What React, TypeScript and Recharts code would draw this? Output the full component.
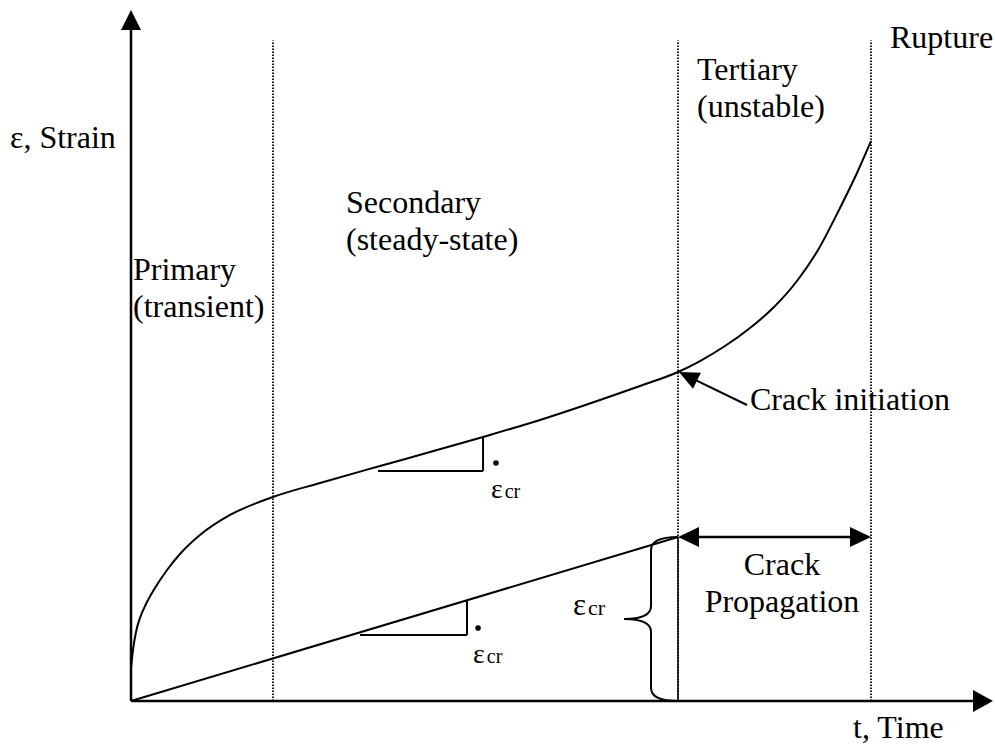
import {
  LineChart,
  Line,
  XAxis,
  YAxis,
  ReferenceLine,
  ReferenceDot,
} from "recharts";

// creep curve (t and strain in arbitrary 0-100 units)
const curveTime = [
  0, 0.23, 0.58, 1.04, 1.74, 2.78, 4.18, 5.68, 8.0, 11.49, 16.47, 21.93,
  28.89, 34.69, 40.84, 47.45, 54.41, 59.05, 63.46, 66.01, 68.91, 71.81, 74.71,
  77.26, 79.7, 82.25, 84.22, 85.85,
];
const curveStrain = [
  4.78, 7.38, 9.99, 12.01, 14.04, 16.35, 18.96, 21.27, 24.02, 26.92, 29.52,
  31.55, 34.01, 36.03, 38.21, 40.67, 43.56, 45.59, 47.61, 49.2, 51.37, 53.98,
  57.16, 60.78, 65.27, 71.35, 76.41, 81.04,
];

// linear secondary-rate line up to crack initiation
const rateTime = [0, 63.46];
const rateStrain = [0, 23.73];

// stage boundaries
const stageBounds = [16.47, 63.46, 85.85];
const stageTop = 95.6;
const tInit = 63.46;
const tRupture = 85.85;

const FONT = "Liberation Serif";

const curveRows = curveTime.map((t, i) => ({ t, strain: curveStrain[i] }));
const rateRows = rateTime.map((t, i) => ({ t, strain: rateStrain[i] }));

// line with filled arrow heads at the end (and optionally start)
const arrowLine =
  (len: number, half: number, both = false, width = 2.5) =>
  (p: any) => {
    const { x1, y1, x2, y2 } = p;
    const dx = x2 - x1;
    const dy = y2 - y1;
    const d = Math.hypot(dx, dy) || 1;
    const ux = dx / d;
    const uy = dy / d;
    const head = (tx: number, ty: number, sx: number, sy: number) => {
      const bx = tx - sx * len;
      const by = ty - sy * len;
      return `${tx},${ty} ${bx - sy * half},${by + sx * half} ${bx + sy * half},${by - sx * half}`;
    };
    return (
      <g>
        <line
          x1={both ? x1 + ux * (len - 2) : x1}
          y1={both ? y1 + uy * (len - 2) : y1}
          x2={x2 - ux * (len - 2)}
          y2={y2 - uy * (len - 2)}
          stroke="#000"
          strokeWidth={width}
        />
        <polygon points={head(x2, y2, ux, uy)} fill="#000" />
        {both && <polygon points={head(x1, y1, -ux, -uy)} fill="#000" />}
      </g>
    );
  };

// curly brace on the left of a vertical segment
const braceShape = (p: any) => {
  const { x1, y1, x2, y2 } = p;
  const top = Math.min(y1, y2);
  const bot = Math.max(y1, y2);
  const x0 = x1;
  const mid = (top + bot) / 2;
  const xs = x0 - 27;
  const tip = x0 - 54;
  const d = `M ${x0} ${top} Q ${xs} ${top} ${xs} ${top + 13} L ${xs} ${mid - 13} Q ${xs} ${mid} ${tip} ${mid} Q ${xs} ${mid} ${xs} ${mid + 13} L ${xs} ${bot - 13} Q ${xs} ${bot} ${x0} ${bot}`;
  return (
    <g>
      <line x1={x1} y1={y1} x2={x2} y2={y2} stroke="#000" strokeWidth={1.5} />
      <path d={d} fill="none" stroke="#000" strokeWidth={2} />
    </g>
  );
};

const note =
  (lines: string[], anchor: "start" | "middle" = "start", size = 32) =>
  (p: any) => (
    <text
      x={p.cx}
      y={p.cy}
      style={{ fontFamily: FONT, fontSize: size }}
      textAnchor={anchor}
      fill="#000"
    >
      {lines.map((s, i) => (
        <tspan key={i} x={p.cx} dy={i === 0 ? 0 : 37}>
          {s}
        </tspan>
      ))}
    </text>
  );

const epsCr =
  (big = 28, small = 20) =>
  (p: any) => (
    <text x={p.cx} y={p.cy} style={{ fontFamily: FONT }} fill="#000">
      <tspan style={{ fontSize: big }}>ε</tspan>
      <tspan style={{ fontSize: small }} dx={2}>
        cr
      </tspan>
    </text>
  );

const seg = (a: [number, number], b: [number, number]) => [
  { x: a[0], y: a[1] },
  { x: b[0], y: b[1] },
];

export default function App() {
  return (
    <div style={{ position: "absolute", left: 0, top: 0, background: "#fff" }}>
      <LineChart
        width={995}
        height={748}
        data={curveRows}
        margin={{ top: 10, right: 2, bottom: 47, left: 131 }}
      >
        <XAxis type="number" dataKey="t" domain={[0, 100]} hide />
        <YAxis type="number" domain={[0, 100]} hide />

        {stageBounds.map((t) => (
          <ReferenceLine
            key={t}
            segment={seg([t, 0], [t, stageTop])}
            stroke="#000"
            strokeWidth={1.8}
            strokeDasharray="1.5 1.5"
            ifOverflow="visible"
          />
        ))}

        {/* axes */}
        <ReferenceLine
          segment={seg([0, 0], [0, 100])}
          shape={arrowLine(20, 10)}
          ifOverflow="visible"
        />
        <ReferenceLine
          segment={seg([0, 0], [100, 0])}
          shape={arrowLine(20, 11)}
          ifOverflow="visible"
        />

        <Line
          dataKey="strain"
          type="monotone"
          stroke="#000"
          strokeWidth={2}
          dot={false}
          activeDot={false}
          isAnimationActive={false}
        />
        <Line
          data={rateRows}
          dataKey="strain"
          type="linear"
          stroke="#000"
          strokeWidth={2}
          dot={false}
          activeDot={false}
          isAnimationActive={false}
        />

        {/* slope triangles */}
        <ReferenceLine segment={seg([28.65, 33.29], [40.84, 33.29])} stroke="#000" strokeWidth={2} ifOverflow="visible" />
        <ReferenceLine segment={seg([40.84, 33.29], [40.84, 38.21])} stroke="#000" strokeWidth={2} ifOverflow="visible" />
        <ReferenceLine segment={seg([26.57, 9.55], [38.98, 9.55])} stroke="#000" strokeWidth={2} ifOverflow="visible" />
        <ReferenceLine segment={seg([38.98, 9.55], [38.98, 14.54])} stroke="#000" strokeWidth={2} ifOverflow="visible" />
        <ReferenceDot x={42.34} y={34.44} r={2.8} fill="#000" stroke="none" ifOverflow="visible" />
        <ReferenceDot x={40.26} y={10.56} r={2.8} fill="#000" stroke="none" ifOverflow="visible" />

        {/* brace + crack propagation span */}
        <ReferenceLine segment={seg([tInit, 23.73], [tInit, 0])} shape={braceShape} ifOverflow="visible" />
        <ReferenceLine
          segment={seg([tInit, 23.73], [tRupture, 23.73])}
          shape={arrowLine(21, 10, true, 2.5)}
          ifOverflow="visible"
        />

        {/* crack initiation pointer */}
        <ReferenceLine
          segment={seg([71.46, 42.84], [63.57, 47.61])}
          shape={arrowLine(20, 9, false, 2)}
          ifOverflow="visible"
        />

        {/* text */}
        <ReferenceDot x={-14.04} y={80.03} r={0} shape={note(["ε, Strain"])} ifOverflow="visible" />
        <ReferenceDot x={83.76} y={-5.35} r={0} shape={note(["t, Time"])} ifOverflow="visible" />
        <ReferenceDot x={0.23} y={60.93} r={0} shape={note(["Primary", "(transient)"])} ifOverflow="visible" />
        <ReferenceDot x={24.94} y={70.62} r={0} shape={note(["Secondary", "(steady-state)"])} ifOverflow="visible" />
        <ReferenceDot x={65.66} y={89.87} r={0} shape={note(["Tertiary", "(unstable)"])} ifOverflow="visible" />
        <ReferenceDot x={88.05} y={94.5} r={0} shape={note(["Rupture"])} ifOverflow="visible" />
        <ReferenceDot x={71.81} y={42.11} r={0} shape={note(["Crack initiation"])} ifOverflow="visible" />
        <ReferenceDot x={75.52} y={18.23} r={0} shape={note(["Crack", "Propagation"], "middle")} ifOverflow="visible" />
        <ReferenceDot x={41.76} y={29.38} r={0} shape={epsCr(28, 20)} ifOverflow="visible" />
        <ReferenceDot x={39.68} y={5.5} r={0} shape={epsCr(28, 20)} ifOverflow="visible" />
        <ReferenceDot x={51.28} y={12.45} r={0} shape={epsCr(31, 22)} ifOverflow="visible" />
      </LineChart>
    </div>
  );
}
